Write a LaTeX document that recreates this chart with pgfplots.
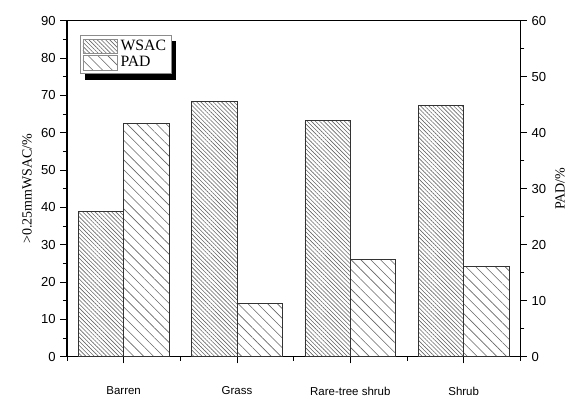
\documentclass[border=0pt]{standalone}
\usepackage{fontspec}
\setmainfont{Liberation Serif}
\newfontfamily\arial{Liberation Sans}
\usepackage{pgfplots}
\pgfplotsset{compat=1.18}
\usetikzlibrary{patterns.meta}
\pgfdeclarelayer{bg}
\pgfsetlayers{bg,main}
\tikzset{
 wsac/.style={draw=black!80, line width=0.5pt, pattern={Lines[angle=-45,distance=2.2pt,line width=0.45pt]}, pattern color=black!60},
 pad/.style={draw=black!80, line width=0.5pt, pattern={Lines[angle=-45,distance=5.2pt,line width=0.45pt]}, pattern color=black!60},
}
\pgfplotsset{
 common/.style={scale only axis, width=340pt, height=252pt,
  xmin=-0.5, xmax=3.5, ybar, bar width=0.4,
  tick align=outside, major tick length=5pt, minor tick length=3pt,
  /pgf/number format/assume math mode=true,
  yticklabel style={font=\arial\fontsize{9.8}{11}\selectfont},
  ylabel style={font=\fontsize{10.5}{12}\selectfont},
  axis line style={line width=0.8pt}, tick style={line width=0.6pt, black},
 }
}
\begin{document}
\begin{tikzpicture}
\begin{axis}[common, name=ax,
 ymin=0, ymax=90, ytick={0,10,...,90}, minor y tick num=1,
 xtick={0,1,2,3}, xticklabels={Barren,Grass,Rare-tree shrub,Shrub},
 minor xtick={-0.5,0.5,1.5,2.5,3.5},
 xtick pos=lower, ytick pos=lower,
 xticklabel style={font=\arial\fontsize{8.6}{9}\selectfont, yshift=-14pt},
 ylabel={>0.25mmWSAC/\%},
 legend style={at={(0.029,0.957)}, anchor=north west, draw=black!45, line width=0.6pt,
   font=\fontsize{11.8}{12}\selectfont, inner sep=1.5pt, row sep=-1pt, name=leg,
   nodes={inner xsep=2.5pt}},
 legend cell align=left,
 legend image code/.code={\draw[#1,draw=black!45] (0pt,-5.4pt) rectangle (25.5pt,5.4pt);},
]
\addplot[wsac, bar shift=-0.2] coordinates {(0,39.0) (1,68.3) (2,63.3) (3,67.2)};
\addlegendentry{WSAC}
\addlegendimage{pad}
\addlegendentry{PAD}
\end{axis}
\begin{pgfonlayer}{bg}
\fill[black] ([xshift=3.5pt,yshift=-4.2pt]leg.south west) rectangle ([xshift=3.5pt,yshift=-4.2pt]leg.north east);
\end{pgfonlayer}
\begin{axis}[common,
 ymin=0, ymax=60, ytick={0,10,...,60}, minor y tick num=1,
 axis y line*=right, axis x line=none,
 ylabel={PAD/\%},
]
\addplot[pad, bar shift=0.2] coordinates {(0,41.7) (1,9.5) (2,17.4) (3,16.1)};
\end{axis}
\pgfresetboundingbox
\path (-50.25pt,-31.7pt) rectangle (375.75pt,267.5pt);
\end{tikzpicture}
\end{document}
